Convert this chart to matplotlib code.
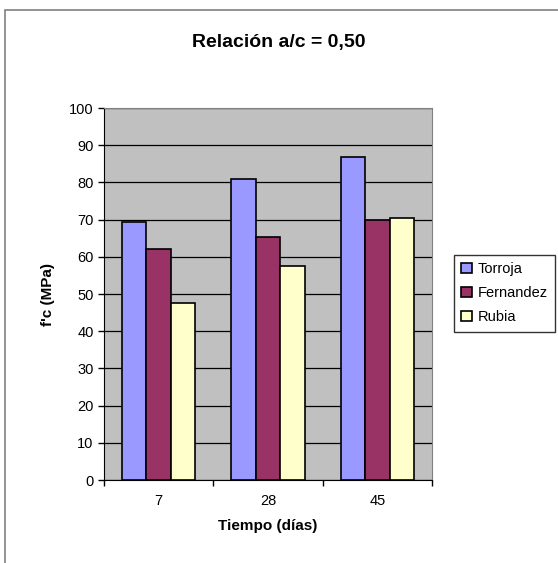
import matplotlib.pyplot as plt
import numpy as np
from matplotlib.patches import Rectangle

plt.rcParams['font.family'] = ['Liberation Sans', 'DejaVu Sans']

dias = ['7', '28', '45']
torroja = [69.3, 80.9, 86.8]
fernandez = [62.2, 65.4, 69.8]
rubia = [47.6, 57.4, 70.3]

series = [('Torroja', torroja, '#9999FF'),
          ('Fernandez', fernandez, '#993366'),
          ('Rubia', rubia, '#FFFFCC')]

W, H = 558, 563
fig = plt.figure(figsize=(W / 100, H / 100), dpi=100)

# chart area border
fig.patches.append(Rectangle((5 / W, -0.01), 1.0, 1 - 10 / H + 0.01, transform=fig.transFigure,
                             fill=False, edgecolor='#808080', lw=1.2))

ax = fig.add_axes([104 / W, 1 - 480 / H, (432 - 104) / W, (480 - 108) / H])
ax.set_facecolor('#C0C0C0')

x = np.arange(len(dias))
bw = 0.223
for i, (name, vals, col) in enumerate(series):
    ax.bar(x + (i - 1) * bw, vals, bw, color=col, edgecolor='black', lw=1.2, label=name, zorder=3)

ax.set_xlim(-0.5, 2.5)
ax.set_ylim(0, 100)
ax.set_yticks(range(0, 101, 10))
ax.yaxis.grid(True, color='black', lw=0.9, zorder=0)
ax.set_xticks(x)
ax.set_xticklabels(dias)
ax.set_xticks([-0.5, 0.5, 1.5, 2.5], minor=True)
ax.tick_params(axis='x', which='major', length=0, labelsize=10.5, pad=10)
ax.tick_params(axis='x', which='minor', length=4, direction='out', width=1)
ax.tick_params(axis='y', length=4, direction='out', labelsize=10.5, width=1)
for s in ['top', 'right']:
    ax.spines[s].set_color('#808080')
for s in ['left', 'bottom']:
    ax.spines[s].set_color('black')

ax.set_xlabel('Tiempo (días)', fontsize=11, fontweight='bold', labelpad=8)
ax.set_ylabel("f'c (MPa)", fontsize=11, fontweight='bold', labelpad=10)
fig.text(0.5, 1 - 42 / H, 'Relación a/c = 0,50', ha='center', va='center',
         fontsize=14, fontweight='bold')

leg = ax.legend(loc='center left', bbox_to_anchor=(454 / W, 1 - 293 / H),
                bbox_transform=fig.transFigure, frameon=True, fancybox=False,
                fontsize=10.5, handlelength=0.7, handleheight=0.7, handletextpad=0.4,
                borderpad=0.5, labelspacing=0.7, borderaxespad=0)
leg.get_frame().set_edgecolor('black')
leg.get_frame().set_linewidth(1)

fig.savefig('out.png', dpi=100)
